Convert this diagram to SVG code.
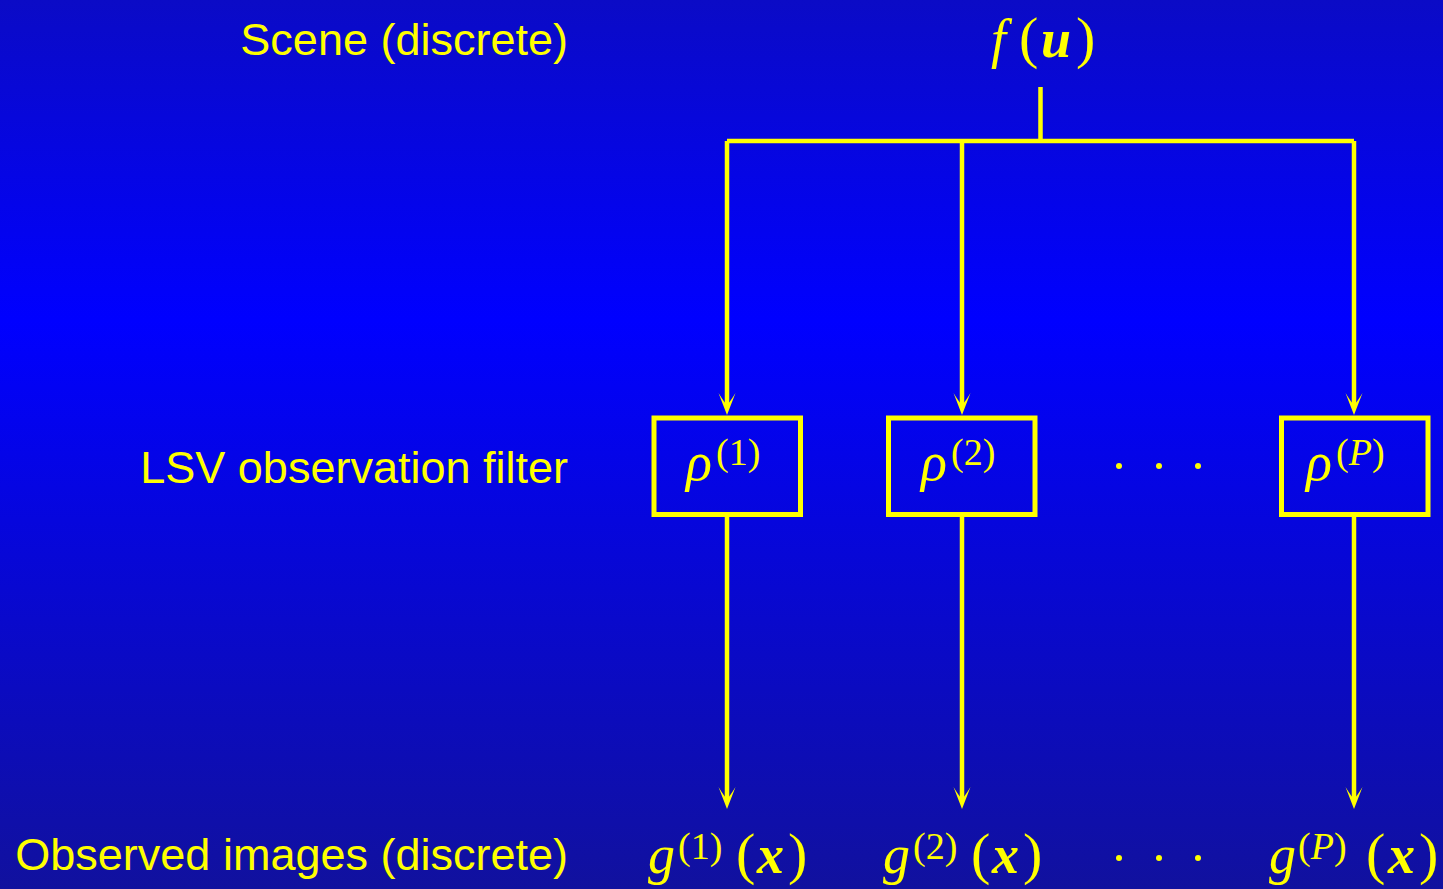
<svg xmlns="http://www.w3.org/2000/svg" width="1443" height="889" viewBox="0 0 1443 889">
  <defs>
    <linearGradient id="bg" x1="0" y1="0" x2="0" y2="1">
      <stop offset="0" stop-color="#0b0bc6"/>
      <stop offset="0.36" stop-color="#0000ff"/>
      <stop offset="1" stop-color="#11119e"/>
    </linearGradient>
    <marker id="arr" markerUnits="userSpaceOnUse" markerWidth="26" markerHeight="20" viewBox="-24 -10 26 20" refX="-10" refY="0" orient="auto">
      <path d="M0,0 L-22,-8.5 Q-13,-3 -10,0 Q-13,3 -22,8.5 Z" fill="#ffff00"/>
    </marker>
    <style>
      .lbl { font-family: "Liberation Sans", Arial, sans-serif; font-size: 45px; fill: #ffff00; text-anchor: end; }
      .math { font-family: "Liberation Serif", "Times New Roman", serif; font-size: 54px; fill: #ffff00; }
      .it { font-style: italic; }
      .bi { font-style: italic; font-weight: bold; }
      .sup { font-size: 38px; }
      .par { font-size: 58px; }
      .wire { stroke: #ffff00; stroke-width: 4.5; fill: none; }
      .box { stroke: #ffff00; stroke-width: 5; fill: none; }
      .dot { fill: #ffff00; }
    </style>
  </defs>
  <rect x="0" y="0" width="1443" height="889" fill="url(#bg)"/>

  <g id="labels">
    <text class="lbl" x="568" y="55">Scene (discrete)</text>
    <text class="lbl" x="568" y="483">LSV observation filter</text>
    <text class="lbl" x="568" y="870">Observed images (discrete)</text>
  </g>

  <g id="connectors">
    <path class="wire" d="M1040.5,87 V141 M727,141 H1354"/>
    <path class="wire" d="M727,141 V405" marker-end="url(#arr)"/>
    <path class="wire" d="M962,141 V405" marker-end="url(#arr)"/>
    <path class="wire" d="M1354,141 V405" marker-end="url(#arr)"/>
    <path class="wire" d="M727,516 V799" marker-end="url(#arr)"/>
    <path class="wire" d="M962,516 V799" marker-end="url(#arr)"/>
    <path class="wire" d="M1354,516 V799" marker-end="url(#arr)"/>
  </g>

  <g id="scene">
    <text class="math"><tspan class="it" x="991" y="57">f</tspan><tspan class="par" x="1019" y="57">(</tspan><tspan class="bi" x="1041" y="57">u</tspan><tspan class="par" x="1076" y="57">)</tspan></text>
  </g>

  <g id="filter1">
    <rect class="box" x="654" y="418" width="146.5" height="96.5"/>
    <text class="math"><tspan class="it" x="686" y="480">ρ</tspan><tspan class="sup" x="716" y="465">(1)</tspan></text>
  </g>
  <g id="filter2">
    <rect class="box" x="888.5" y="418" width="146.5" height="96.5"/>
    <text class="math"><tspan class="it" x="921" y="480">ρ</tspan><tspan class="sup" x="951" y="465">(2)</tspan></text>
  </g>
  <g id="filterP">
    <rect class="box" x="1281.5" y="418" width="146.5" height="96.5"/>
    <text class="math"><tspan class="it" x="1306" y="480">ρ</tspan><tspan class="sup" x="1336" y="465">(<tspan class="it">P</tspan>)</tspan></text>
  </g>
  <g id="dots-filters">
    <circle class="dot" cx="1119" cy="466" r="3"/>
    <circle class="dot" cx="1159" cy="466" r="3"/>
    <circle class="dot" cx="1198" cy="466" r="3"/>
  </g>

  <g id="image1">
    <text class="math"><tspan class="it" x="648" y="873">g</tspan><tspan class="sup" x="678" y="859">(1)</tspan><tspan class="par" x="736" y="873">(</tspan><tspan class="bi" x="757" y="873">x</tspan><tspan class="par" x="788" y="873">)</tspan></text>
  </g>
  <g id="image2">
    <text class="math"><tspan class="it" x="883" y="873">g</tspan><tspan class="sup" x="913" y="859">(2)</tspan><tspan class="par" x="971" y="873">(</tspan><tspan class="bi" x="992" y="873">x</tspan><tspan class="par" x="1023" y="873">)</tspan></text>
  </g>
  <g id="imageP">
    <text class="math"><tspan class="it" x="1269" y="873">g</tspan><tspan class="sup" x="1298" y="859">(<tspan class="it">P</tspan>)</tspan><tspan class="par" x="1366" y="873">(</tspan><tspan class="bi" x="1388" y="873">x</tspan><tspan class="par" x="1419" y="873">)</tspan></text>
  </g>
  <g id="dots-images">
    <circle class="dot" cx="1119" cy="858" r="3"/>
    <circle class="dot" cx="1159" cy="858" r="3"/>
    <circle class="dot" cx="1198" cy="858" r="3"/>
  </g>
</svg>
